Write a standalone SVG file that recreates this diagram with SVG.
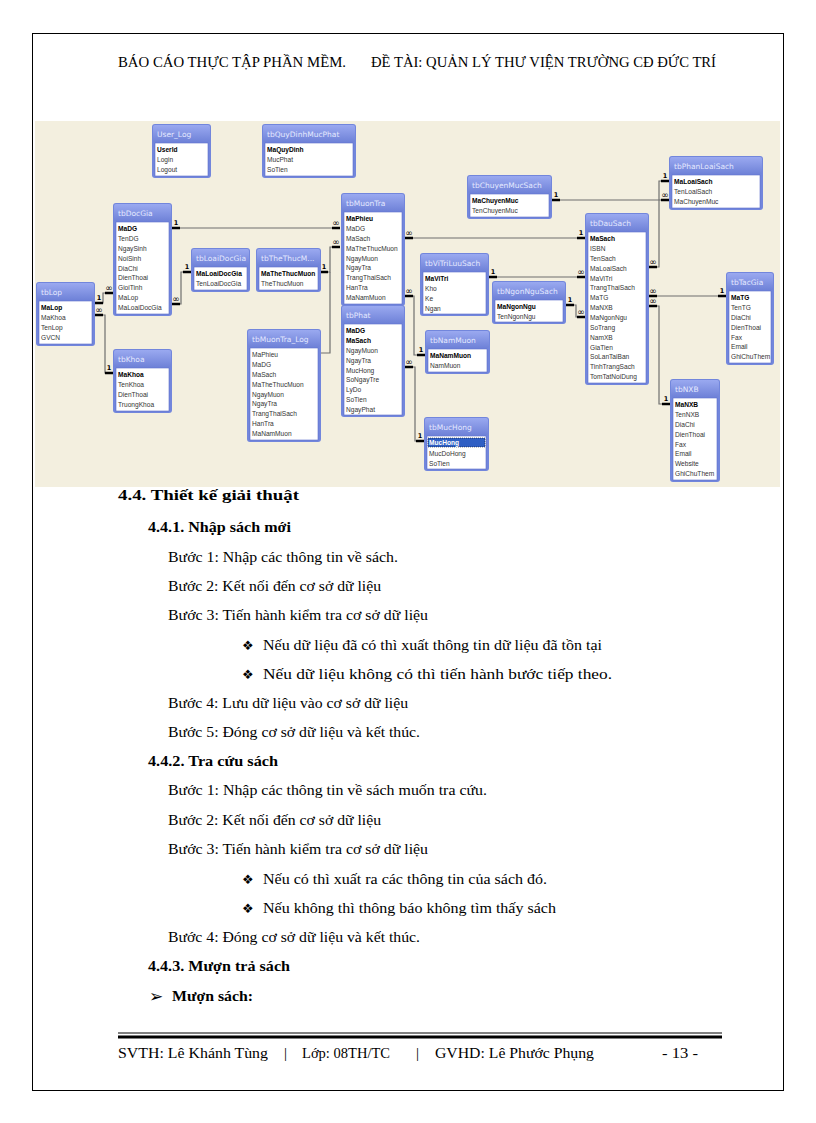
<svg xmlns="http://www.w3.org/2000/svg" width="816" height="1123" viewBox="0 0 816 1123">
<style>
.pg{fill:#fff;stroke:#000;stroke-width:1}
.bgd{fill:#f3efdf}
.fr{fill:#7286dc}
.hd{fill:url(#hg)}
.bd{fill:#fff;stroke:#5a6cc8;stroke-width:0.6}
.tt{font-family:"DejaVu Sans",sans-serif;font-size:7.5px;fill:#e4e9ff}
.f{font-family:"Liberation Sans",Arial,sans-serif;font-size:6.6px;fill:#333}
.k{font-weight:bold;fill:#000}
.ln{fill:none;stroke:#6f6f6f;stroke-width:1.2}
.end{stroke:#000;stroke-width:2.4}
.lb{font-family:"DejaVu Sans",sans-serif;font-size:6.5px;font-weight:bold;fill:#000;text-anchor:middle}
.lb.m{font-size:9px;font-weight:normal}
.t{font-family:"Liberation Serif","Times New Roman",serif;font-size:15px;fill:#000}
.b{font-weight:bold}
.h{font-family:"Liberation Serif","Times New Roman",serif;font-size:14px;fill:#000}
.bl{font-family:"DejaVu Sans",sans-serif;font-size:13px;fill:#000}
.ar{font-family:"DejaVu Sans",sans-serif;font-size:17px;font-weight:bold;fill:#000}
</style>
<defs>
<linearGradient id="hg" x1="0" y1="0" x2="0" y2="1">
<stop offset="0" stop-color="#9aa9f0"/>
<stop offset="1" stop-color="#6f82d8"/>
</linearGradient>
</defs>
<rect class="pg" x="32.5" y="33.5" width="751" height="1057"/>
<text class="h" x="118" y="67" textLength="228" lengthAdjust="spacingAndGlyphs">BÁO CÁO THỰC TẬP PHẦN MỀM.</text>
<text class="h" x="371" y="67" textLength="345" lengthAdjust="spacingAndGlyphs">ĐỀ TÀI: QUẢN LÝ THƯ VIỆN TRƯỜNG CĐ ĐỨC TRÍ</text>
<rect class="bgd" x="35" y="121" width="745" height="366"/>

<g id="connectors">
<path class="ln" d="M172,228 H340"/>
<path class="ln" d="M320,272 H330 V247 H340"/>
<path class="ln" d="M321,353 H330 V272"/>
<path class="ln" d="M405,238 H585"/>
<path class="ln" d="M552,200 H669"/>
<path class="ln" d="M669,181 H659 V267 H649"/>
<path class="ln" d="M649,296 H726"/>
<path class="ln" d="M649,306 H659 V404 H670"/>
<path class="ln" d="M489,277 H585"/>
<path class="ln" d="M566,305 H576 V317 H585"/>
<path class="ln" d="M95,303 H103 V293 H113"/>
<path class="ln" d="M95,315 H105 V373 H113"/>
<path class="ln" d="M191,272 H181 V304 H172"/>
<path class="ln" d="M405,296 H414 V355 H425"/>
<path class="ln" d="M405,367 H415 V441 H424"/>
<path class="end" d="M172,228h8M332,228h8M320,272h8M332,247h8M405,238h8M577,238h8M552,200h8M661,200h8M661,181h8M649,267h8M649,296h8M718,296h8M649,306h8M662,404h8M489,277h8M577,277h8M566,305h8M577,317h8M95,303h8M105,293h8M95,315h8M105,373h8M183,272h8M172,304h8M405,296h8M417,355h8M405,367h8M416,441h8"/>
<text class="lb" x="176" y="225">1</text><text class="lb m" x="336" y="226">∞</text>
<text class="lb" x="324" y="269">1</text><text class="lb m" x="336" y="245">∞</text>
<text class="lb m" x="409" y="236">∞</text><text class="lb" x="581" y="235">1</text>
<text class="lb" x="556" y="197">1</text><text class="lb m" x="665" y="198">∞</text>
<text class="lb" x="665" y="178">1</text><text class="lb m" x="653" y="265">∞</text>
<text class="lb m" x="653" y="294">∞</text><text class="lb" x="722" y="293">1</text>
<text class="lb m" x="653" y="304">∞</text><text class="lb" x="666" y="401">1</text>
<text class="lb" x="493" y="274">1</text><text class="lb m" x="581" y="275">∞</text>
<text class="lb" x="570" y="302">1</text><text class="lb m" x="581" y="315">∞</text>
<text class="lb" x="99" y="300">1</text><text class="lb m" x="109" y="291">∞</text>
<text class="lb m" x="99" y="313">∞</text><text class="lb" x="109" y="370">1</text>
<text class="lb" x="187" y="269">1</text><text class="lb m" x="176" y="302">∞</text>
<text class="lb m" x="409" y="294">∞</text><text class="lb" x="421" y="352">1</text>
<text class="lb m" x="409" y="365">∞</text><text class="lb" x="420" y="438">1</text>
</g>

<g id="User_Log" transform="translate(152,124)">
<rect class="fr" width="59" height="54" rx="3"/><rect class="hd" x="1" y="1" width="57" height="17" rx="2"/>
<text class="tt" x="5" y="13">User_Log</text><rect class="bd" x="3" y="19" width="53" height="33"/>
<text class="f"><tspan class="k" x="5" y="28.2">UserId</tspan><tspan x="5" y="38">Login</tspan><tspan x="5" y="47.9">Logout</tspan></text>
</g>
<g id="tbQuyDinhMucPhat" transform="translate(262,124)">
<rect class="fr" width="94" height="54" rx="3"/><rect class="hd" x="1" y="1" width="92" height="17" rx="2"/>
<text class="tt" x="5" y="13">tbQuyDinhMucPhat</text><rect class="bd" x="3" y="19" width="88" height="33"/>
<text class="f"><tspan class="k" x="5" y="28.2">MaQuyDinh</tspan><tspan x="5" y="38">MucPhat</tspan><tspan x="5" y="47.9">SoTien</tspan></text>
</g>
<g id="tbDocGia" transform="translate(113,203)">
<rect class="fr" width="59" height="113" rx="3"/><rect class="hd" x="1" y="1" width="57" height="17" rx="2"/>
<text class="tt" x="5" y="13">tbDocGia</text><rect class="bd" x="3" y="19" width="53" height="92"/>
<text class="f"><tspan class="k" x="5" y="28.2">MaDG</tspan><tspan x="5" y="38">TenDG</tspan><tspan x="5" y="47.9">NgaySinh</tspan><tspan x="5" y="57.7">NoiSinh</tspan><tspan x="5" y="67.6">DiaChi</tspan><tspan x="5" y="77.4">DienThoai</tspan><tspan x="5" y="87.3">GioiTinh</tspan><tspan x="5" y="97.1">MaLop</tspan><tspan x="5" y="107">MaLoaiDocGia</tspan></text>
</g>
<g id="tbLoaiDocGia" transform="translate(191,248)">
<rect class="fr" width="59" height="44" rx="3"/><rect class="hd" x="1" y="1" width="57" height="17" rx="2"/>
<text class="tt" x="5" y="13">tbLoaiDocGia</text><rect class="bd" x="3" y="19" width="53" height="23"/>
<text class="f"><tspan class="k" x="5" y="28.2">MaLoaiDocGia</tspan><tspan x="5" y="38">TenLoaiDocGia</tspan></text>
</g>
<g id="tbTheThucMuon" transform="translate(256,248)">
<rect class="fr" width="65" height="44" rx="3"/><rect class="hd" x="1" y="1" width="63" height="17" rx="2"/>
<text class="tt" x="5" y="13">tbTheThucM...</text><rect class="bd" x="3" y="19" width="59" height="23"/>
<text class="f"><tspan class="k" x="5" y="28.2">MaTheThucMuon</tspan><tspan x="5" y="38">TheThucMuon</tspan></text>
</g>
<g id="tbMuonTra" transform="translate(341,193)">
<rect class="fr" width="64" height="113" rx="3"/><rect class="hd" x="1" y="1" width="62" height="17" rx="2"/>
<text class="tt" x="5" y="13">tbMuonTra</text><rect class="bd" x="3" y="19" width="58" height="92"/>
<text class="f"><tspan class="k" x="5" y="28.2">MaPhieu</tspan><tspan x="5" y="38">MaDG</tspan><tspan x="5" y="47.9">MaSach</tspan><tspan x="5" y="57.7">MaTheThucMuon</tspan><tspan x="5" y="67.6">NgayMuon</tspan><tspan x="5" y="77.4">NgayTra</tspan><tspan x="5" y="87.3">TrangThaiSach</tspan><tspan x="5" y="97.1">HanTra</tspan><tspan x="5" y="107">MaNamMuon</tspan></text>
</g>
<g id="tbPhat" transform="translate(341,305)">
<rect class="fr" width="64" height="112" rx="3"/><rect class="hd" x="1" y="1" width="62" height="17" rx="2"/>
<text class="tt" x="5" y="13">tbPhat</text><rect class="bd" x="3" y="19" width="58" height="91"/>
<text class="f"><tspan class="k" x="5" y="28.2">MaDG</tspan><tspan class="k" x="5" y="38">MaSach</tspan><tspan x="5" y="47.9">NgayMuon</tspan><tspan x="5" y="57.7">NgayTra</tspan><tspan x="5" y="67.6">MucHong</tspan><tspan x="5" y="77.4">SoNgayTre</tspan><tspan x="5" y="87.3">LyDo</tspan><tspan x="5" y="97.1">SoTien</tspan><tspan x="5" y="107">NgayPhat</tspan></text>
</g>
<g id="tbMuonTra_Log" transform="translate(247,329)">
<rect class="fr" width="74" height="113" rx="3"/><rect class="hd" x="1" y="1" width="72" height="17" rx="2"/>
<text class="tt" x="5" y="13">tbMuonTra_Log</text><rect class="bd" x="3" y="19" width="68" height="92"/>
<text class="f"><tspan x="5" y="28.2">MaPhieu</tspan><tspan x="5" y="38">MaDG</tspan><tspan x="5" y="47.9">MaSach</tspan><tspan x="5" y="57.7">MaTheThucMuon</tspan><tspan x="5" y="67.6">NgayMuon</tspan><tspan x="5" y="77.4">NgayTra</tspan><tspan x="5" y="87.3">TrangThaiSach</tspan><tspan x="5" y="97.1">HanTra</tspan><tspan x="5" y="107">MaNamMuon</tspan></text>
</g>
<g id="tbLop" transform="translate(36,282)">
<rect class="fr" width="59" height="64" rx="3"/><rect class="hd" x="1" y="1" width="57" height="17" rx="2"/>
<text class="tt" x="5" y="13">tbLop</text><rect class="bd" x="3" y="19" width="53" height="43"/>
<text class="f"><tspan class="k" x="5" y="28.2">MaLop</tspan><tspan x="5" y="38">MaKhoa</tspan><tspan x="5" y="47.9">TenLop</tspan><tspan x="5" y="57.7">GVCN</tspan></text>
</g>
<g id="tbKhoa" transform="translate(113,349)">
<rect class="fr" width="59" height="64" rx="3"/><rect class="hd" x="1" y="1" width="57" height="17" rx="2"/>
<text class="tt" x="5" y="13">tbKhoa</text><rect class="bd" x="3" y="19" width="53" height="43"/>
<text class="f"><tspan class="k" x="5" y="28.2">MaKhoa</tspan><tspan x="5" y="38">TenKhoa</tspan><tspan x="5" y="47.9">DienThoai</tspan><tspan x="5" y="57.7">TruongKhoa</tspan></text>
</g>
<g id="tbChuyenMucSach" transform="translate(467,175)">
<rect class="fr" width="85" height="44" rx="3"/><rect class="hd" x="1" y="1" width="83" height="17" rx="2"/>
<text class="tt" x="5" y="13">tbChuyenMucSach</text><rect class="bd" x="3" y="19" width="79" height="23"/>
<text class="f"><tspan class="k" x="5" y="28.2">MaChuyenMuc</tspan><tspan x="5" y="38">TenChuyenMuc</tspan></text>
</g>
<g id="tbDauSach" transform="translate(585,213)">
<rect class="fr" width="64" height="172" rx="3"/><rect class="hd" x="1" y="1" width="62" height="17" rx="2"/>
<text class="tt" x="5" y="13">tbDauSach</text><rect class="bd" x="3" y="19" width="58" height="151"/>
<text class="f"><tspan class="k" x="5" y="28.2">MaSach</tspan><tspan x="5" y="38">ISBN</tspan><tspan x="5" y="47.9">TenSach</tspan><tspan x="5" y="57.7">MaLoaiSach</tspan><tspan x="5" y="67.6">MaViTri</tspan><tspan x="5" y="77.4">TrangThaiSach</tspan><tspan x="5" y="87.3">MaTG</tspan><tspan x="5" y="97.1">MaNXB</tspan><tspan x="5" y="107">MaNgonNgu</tspan><tspan x="5" y="116.8">SoTrang</tspan><tspan x="5" y="126.7">NamXB</tspan><tspan x="5" y="136.5">GiaTien</tspan><tspan x="5" y="146.4">SoLanTaiBan</tspan><tspan x="5" y="156.2">TinhTrangSach</tspan><tspan x="5" y="166.1">TomTatNoiDung</tspan></text>
</g>
<g id="tbPhanLoaiSach" transform="translate(669,156)">
<rect class="fr" width="94" height="54" rx="3"/><rect class="hd" x="1" y="1" width="92" height="17" rx="2"/>
<text class="tt" x="5" y="13">tbPhanLoaiSach</text><rect class="bd" x="3" y="19" width="88" height="33"/>
<text class="f"><tspan class="k" x="5" y="28.2">MaLoaiSach</tspan><tspan x="5" y="38">TenLoaiSach</tspan><tspan x="5" y="47.9">MaChuyenMuc</tspan></text>
</g>
<g id="tbViTriLuuSach" transform="translate(420,253)">
<rect class="fr" width="69" height="63" rx="3"/><rect class="hd" x="1" y="1" width="67" height="17" rx="2"/>
<text class="tt" x="5" y="13">tbViTriLuuSach</text><rect class="bd" x="3" y="19" width="63" height="42"/>
<text class="f"><tspan class="k" x="5" y="28.2">MaViTri</tspan><tspan x="5" y="38">Kho</tspan><tspan x="5" y="47.9">Ke</tspan><tspan x="5" y="57.7">Ngan</tspan></text>
</g>
<g id="tbNgonNguSach" transform="translate(492,281)">
<rect class="fr" width="74" height="43" rx="3"/><rect class="hd" x="1" y="1" width="72" height="17" rx="2"/>
<text class="tt" x="5" y="13">tbNgonNguSach</text><rect class="bd" x="3" y="19" width="68" height="22"/>
<text class="f"><tspan class="k" x="5" y="28.2">MaNgonNgu</tspan><tspan x="5" y="38">TenNgonNgu</tspan></text>
</g>
<g id="tbNamMuon" transform="translate(425,330)">
<rect class="fr" width="65" height="44" rx="3"/><rect class="hd" x="1" y="1" width="63" height="17" rx="2"/>
<text class="tt" x="5" y="13">tbNamMuon</text><rect class="bd" x="3" y="19" width="59" height="23"/>
<text class="f"><tspan class="k" x="5" y="28.2">MaNamMuon</tspan><tspan x="5" y="38">NamMuon</tspan></text>
</g>
<g id="tbMucHong" transform="translate(424,417)">
<rect class="fr" width="65" height="54" rx="3"/><rect class="hd" x="1" y="1" width="63" height="17" rx="2"/>
<text class="tt" x="5" y="13">tbMucHong</text><rect class="bd" x="3" y="19" width="59" height="33"/>
<rect x="4" y="21" width="57" height="9" fill="#2f5fc4" stroke="#000" stroke-width="0.5" stroke-dasharray="1 1"/>
<text class="f"><tspan x="5" y="28.2" fill="#fff" font-weight="bold">MucHong</tspan><tspan x="5" y="38.5">MucDoHong</tspan><tspan x="5" y="48.8">SoTien</tspan></text>
</g>
<g id="tbTacGia" transform="translate(726,272)">
<rect class="fr" width="48" height="93" rx="3"/><rect class="hd" x="1" y="1" width="46" height="17" rx="2"/>
<text class="tt" x="5" y="13">tbTacGia</text><rect class="bd" x="3" y="19" width="42" height="72"/>
<text class="f"><tspan class="k" x="5" y="28.2">MaTG</tspan><tspan x="5" y="38">TenTG</tspan><tspan x="5" y="47.9">DiaChi</tspan><tspan x="5" y="57.7">DienThoai</tspan><tspan x="5" y="67.6">Fax</tspan><tspan x="5" y="77.4">Email</tspan><tspan x="5" y="87.3">GhiChuThem</tspan></text>
</g>
<g id="tbNXB" transform="translate(670,379)">
<rect class="fr" width="50" height="103" rx="3"/><rect class="hd" x="1" y="1" width="48" height="17" rx="2"/>
<text class="tt" x="5" y="13">tbNXB</text><rect class="bd" x="3" y="19" width="44" height="82"/>
<text class="f"><tspan class="k" x="5" y="28.2">MaNXB</tspan><tspan x="5" y="38">TenNXB</tspan><tspan x="5" y="47.9">DiaChi</tspan><tspan x="5" y="57.7">DienThoai</tspan><tspan x="5" y="67.6">Fax</tspan><tspan x="5" y="77.4">Email</tspan><tspan x="5" y="87.3">Website</tspan><tspan x="5" y="97.1">GhiChuThem</tspan></text>
</g>

<text class="t b" x="118" y="500" textLength="181" lengthAdjust="spacingAndGlyphs">4.4. Thiết kế giải thuật</text>
<text class="t b" x="148" y="532" textLength="143" lengthAdjust="spacingAndGlyphs">4.4.1. Nhập sách mới</text>
<text class="t" x="168" y="562" textLength="230" lengthAdjust="spacingAndGlyphs">Bước 1: Nhập các thông tin về sách.</text>
<text class="t" x="168" y="591" textLength="213" lengthAdjust="spacingAndGlyphs">Bước 2: Kết nối đến cơ sở dữ liệu</text>
<text class="t" x="168" y="620" textLength="260" lengthAdjust="spacingAndGlyphs">Bước 3: Tiến hành kiểm tra cơ sở dữ liệu</text>
<text class="bl" x="242" y="650">❖</text>
<text class="t" x="263" y="650" textLength="339" lengthAdjust="spacingAndGlyphs">Nếu dữ liệu đã có thì xuất thông tin dữ liệu đã tồn tại</text>
<text class="bl" x="242" y="679">❖</text>
<text class="t" x="263" y="679" textLength="349" lengthAdjust="spacingAndGlyphs">Nếu dữ liệu không có thì tiến hành bước tiếp theo.</text>
<text class="t" x="168" y="708" textLength="240" lengthAdjust="spacingAndGlyphs">Bước 4: Lưu dữ liệu vào cơ sở dữ liệu</text>
<text class="t" x="168" y="737" textLength="252" lengthAdjust="spacingAndGlyphs">Bước 5: Đóng cơ sở dữ liệu và kết thúc.</text>
<text class="t b" x="148" y="766" textLength="130" lengthAdjust="spacingAndGlyphs">4.4.2. Tra cứu sách</text>
<text class="t" x="168" y="795" textLength="319" lengthAdjust="spacingAndGlyphs">Bước 1: Nhập các thông tin về sách muốn tra cứu.</text>
<text class="t" x="168" y="825" textLength="213" lengthAdjust="spacingAndGlyphs">Bước 2: Kết nối đến cơ sở dữ liệu</text>
<text class="t" x="168" y="854" textLength="260" lengthAdjust="spacingAndGlyphs">Bước 3: Tiến hành kiểm tra cơ sở dữ liệu</text>
<text class="bl" x="242" y="884">❖</text>
<text class="t" x="263" y="884" textLength="284" lengthAdjust="spacingAndGlyphs">Nếu có thì xuất ra các thông tin của sách đó.</text>
<text class="bl" x="242" y="913">❖</text>
<text class="t" x="263" y="913" textLength="293" lengthAdjust="spacingAndGlyphs">Nếu không thì thông báo không tìm thấy sách</text>
<text class="t" x="168" y="942" textLength="252" lengthAdjust="spacingAndGlyphs">Bước 4: Đóng cơ sở dữ liệu và kết thúc.</text>
<text class="t b" x="148" y="971" textLength="142" lengthAdjust="spacingAndGlyphs">4.4.3. Mượn trả sách</text>
<text class="ar" x="149" y="1002">➢</text>
<text class="t b" x="172" y="1001" textLength="81" lengthAdjust="spacingAndGlyphs">Mượn sách:</text>

<line x1="118" y1="1033" x2="722" y2="1033" stroke="#000" stroke-width="1"/>
<line x1="118" y1="1037" x2="722" y2="1037" stroke="#000" stroke-width="3"/>
<text class="t" x="118" y="1058" textLength="150" lengthAdjust="spacingAndGlyphs">SVTH: Lê Khánh Tùng</text>
<text class="t" x="284" y="1058">|</text>
<text class="t" x="302" y="1058" textLength="88" lengthAdjust="spacingAndGlyphs">Lớp: 08TH/TC</text>
<text class="t" x="416" y="1058">|</text>
<text class="t" x="435" y="1058" textLength="159" lengthAdjust="spacingAndGlyphs">GVHD: Lê Phước Phụng</text>
<text class="t" x="662" y="1058" textLength="36" lengthAdjust="spacingAndGlyphs">- 13 -</text>
</svg>
